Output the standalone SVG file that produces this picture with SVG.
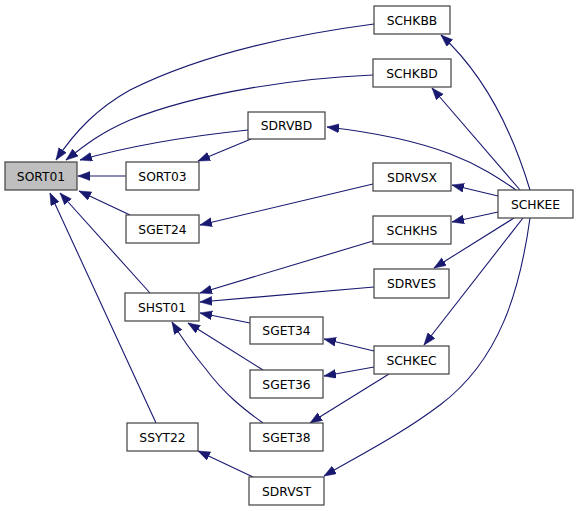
<svg xmlns="http://www.w3.org/2000/svg" width="579" height="511" viewBox="0 0 579 511">
<style>
.n rect{fill:#fff;stroke:#404040;stroke-width:1.2}
.n text{font-family:"DejaVu Sans",sans-serif;font-size:12.3px;fill:#000;text-anchor:middle}
.e path{fill:none;stroke:#191970;stroke-width:1.1;marker-end:url(#ah)}
</style>
<defs>
<marker id="ah" markerUnits="userSpaceOnUse" markerWidth="13" markerHeight="10" refX="12" refY="4.5" orient="auto">
<path d="M0,0 L12,4.5 L0,9 z" fill="#191970" stroke="#191970" stroke-width="0.5"/>
</marker>
</defs>
<rect width="579" height="511" fill="#fff"/>
<g id="connectors" class="e">
<path d="M374,24 C290,35 200,55 130,90 C98,108 76,130 56,160"/>
<path d="M373,75 C300,78 200,92 130,120 C100,133 85,145 66,160"/>
<path d="M248,130 C200,135 140,143 80,160"/>
<path d="M126,176 L78,176"/>
<path d="M130,215 L79,191"/>
<path d="M150,293 L60,193"/>
<path d="M156,423 L50,193"/>
<path d="M251,139 L198,161"/>
<path d="M373,184 L200,225"/>
<path d="M530,190 C515,140 490,80 441,35"/>
<path d="M520,190 L432,88"/>
<path d="M516,190 C480,165 440,140 327,127"/>
<path d="M498,196 L452,185"/>
<path d="M498,212 L452,222"/>
<path d="M514,218 L434,268"/>
<path d="M523,218 L424,345"/>
<path d="M530,218 C520,290 500,360 440,405 C400,435 360,455 324,476"/>
<path d="M373,241 L200,293"/>
<path d="M374,287 L200,302"/>
<path d="M250,323 L200,313"/>
<path d="M263,370 L188,323"/>
<path d="M263,423 C245,410 225,395 205,368 C190,350 180,335 172,322"/>
<path d="M374,351 L324,339"/>
<path d="M374,367 L324,376"/>
<path d="M389,374 L310,423"/>
<path d="M253,477 L198,451"/>
</g>
<g id="SORT01" class="n"><rect x="5" y="162" width="72" height="28" style="fill:#bfbfbf"/><text x="41" y="180.5">SORT01</text></g>
<g id="SORT03" class="n"><rect x="126" y="162" width="73" height="28"/><text x="162.5" y="180.5">SORT03</text></g>
<g id="SGET24" class="n"><rect x="126" y="215" width="73" height="28"/><text x="162.5" y="233.5">SGET24</text></g>
<g id="SDRVBD" class="n"><rect x="248" y="112" width="77" height="27"/><text x="286.5" y="130">SDRVBD</text></g>
<g id="SCHKBB" class="n"><rect x="374" y="6" width="76" height="28"/><text x="412" y="24.5">SCHKBB</text></g>
<g id="SCHKBD" class="n"><rect x="373" y="59" width="78" height="28"/><text x="412" y="77.5">SCHKBD</text></g>
<g id="SDRVSX" class="n"><rect x="373" y="163" width="78" height="28"/><text x="412" y="181.5">SDRVSX</text></g>
<g id="SCHKEE" class="n"><rect x="498" y="190" width="75" height="28"/><text x="535.5" y="208.5">SCHKEE</text></g>
<g id="SCHKHS" class="n"><rect x="373" y="216" width="78" height="28"/><text x="412" y="234.5">SCHKHS</text></g>
<g id="SDRVES" class="n"><rect x="374" y="269" width="75" height="29"/><text x="411.5" y="288">SDRVES</text></g>
<g id="SCHKEC" class="n"><rect x="374" y="346" width="75" height="28"/><text x="411.5" y="364.5">SCHKEC</text></g>
<g id="SHST01" class="n"><rect x="125" y="293" width="74" height="28"/><text x="162" y="311.5">SHST01</text></g>
<g id="SGET34" class="n"><rect x="250" y="317" width="73" height="27"/><text x="286.5" y="335">SGET34</text></g>
<g id="SGET36" class="n"><rect x="250" y="370" width="73" height="28"/><text x="286.5" y="388.5">SGET36</text></g>
<g id="SGET38" class="n"><rect x="250" y="423" width="73" height="28"/><text x="286.5" y="441.5">SGET38</text></g>
<g id="SSYT22" class="n"><rect x="127" y="423" width="71" height="28"/><text x="162.5" y="441.5">SSYT22</text></g>
<g id="SDRVST" class="n"><rect x="249" y="477" width="75" height="28"/><text x="286.5" y="495.5">SDRVST</text></g>
</svg>
